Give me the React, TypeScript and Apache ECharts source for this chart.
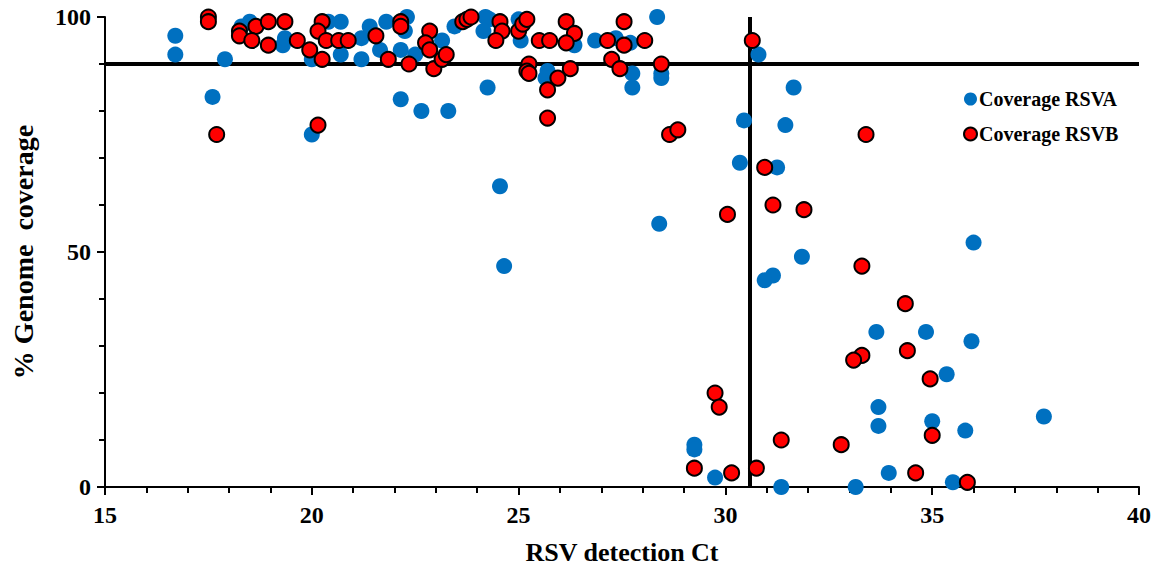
import React, { useEffect, useRef } from "react";
import * as echarts from "echarts";

const xTitle = "RSV detection Ct";
const yTitle = "% Genome  coverage";
const seriesNames = ["Coverage RSVA", "Coverage RSVB"];
const thresholdCoverage = 90;
const thresholdCt = 30.6;

const rsvA: number[][] = [
  [16.7, 96], [16.7, 92], [17.6, 83], [17.9, 91], [18.3, 98], [18.5, 99], [19.3, 94], [19.35, 95.5],
  [20.0, 91], [20.0, 75], [20.4, 99], [20.7, 99], [20.7, 92], [21.2, 91], [21.2, 95.5], [21.4, 98],
  [21.65, 93], [21.8, 99], [22.15, 93], [22.3, 100], [22.25, 97], [22.5, 92], [22.15, 82.5], [22.65, 80],
  [23.3, 80], [23.15, 95], [23.45, 98], [24.2, 100], [24.3, 99.5], [24.15, 97], [24.25, 85], [25.0, 99.5],
  [25.05, 95], [25.7, 88.5], [25.65, 87], [26.35, 94], [26.85, 95], [27.35, 95.5], [27.7, 94.5], [27.75, 88],
  [27.75, 85], [28.35, 100], [28.45, 88], [28.45, 87], [24.55, 64], [24.65, 47], [28.4, 56], [30.45, 78],
  [30.8, 92], [31.65, 85], [31.45, 77], [30.35, 69], [31.25, 68], [36.0, 52], [31.85, 49], [31.15, 45],
  [30.95, 44], [33.65, 33], [34.85, 33], [35.95, 31], [35.35, 24], [33.7, 17], [33.7, 13], [35.0, 14],
  [35.8, 12], [37.7, 15], [29.25, 9], [29.25, 8], [29.75, 2], [31.35, 0], [33.15, 0], [33.95, 3], [35.5, 1],
];

const rsvB: number[][] = [
  [17.5, 100], [17.5, 99], [17.7, 75], [18.25, 97], [18.25, 96], [18.65, 98], [18.55, 95], [18.95, 99],
  [18.95, 94], [19.35, 99], [19.65, 95], [19.95, 93], [20.25, 99], [20.15, 97], [20.25, 91], [20.35, 95],
  [20.65, 95], [20.88, 95], [20.15, 77], [21.55, 96], [21.85, 91], [22.15, 99], [22.15, 98], [22.35, 90],
  [22.85, 97], [22.75, 94.5], [22.85, 93], [22.95, 89], [23.15, 91], [23.25, 92], [23.65, 99], [23.75, 99.5],
  [23.85, 100], [24.55, 99], [24.6, 97], [24.45, 95], [25.0, 97], [25.1, 98.5], [25.2, 99.5], [25.5, 95],
  [25.75, 95], [25.25, 90], [25.2, 88.5], [25.25, 88], [25.7, 84.5], [25.7, 78.5], [26.15, 99], [26.35, 96.5],
  [26.15, 94.5], [26.25, 89], [25.95, 87], [27.15, 95], [27.55, 99], [27.55, 94], [27.25, 91], [27.45, 89],
  [28.05, 95], [28.45, 90], [28.65, 75], [28.85, 76], [30.65, 95], [30.05, 58], [30.95, 68], [31.15, 60],
  [31.9, 59], [33.4, 75], [33.3, 47], [34.35, 39], [33.3, 28], [33.1, 27], [34.4, 29], [34.95, 23],
  [29.75, 20], [29.85, 17], [35.0, 11], [31.35, 10], [32.8, 9], [29.25, 4], [30.15, 3], [30.75, 4],
  [34.6, 3], [35.85, 1],
];

const FONT = "'Liberation Serif', 'Times New Roman', serif";

export default function App() {
  const ref = useRef<HTMLDivElement>(null);
  useEffect(() => {
    if (!ref.current) return;
    const chart = echarts.init(ref.current, undefined, { renderer: "svg" });
    const axisCommon = {
      axisLine: { show: true, onZero: false, lineStyle: { color: "#000", width: 2 } },
      axisTick: { show: true, inside: false, length: 8, lineStyle: { color: "#000", width: 2 } },
      minorTick: { show: true, splitNumber: 5, length: 6, lineStyle: { color: "#000", width: 2 } },
      splitLine: { show: false },
      axisLabel: { color: "#000", fontFamily: FONT, fontWeight: "bold", fontSize: 24 },
      nameTextStyle: { color: "#000", fontFamily: FONT, fontWeight: "bold", fontSize: 26 },
    };
    chart.setOption({
      animation: false,
      backgroundColor: "#fff",
      grid: { left: 105, right: 20, top: 17, bottom: 92, containLabel: false },
      legend: {
        orient: "vertical",
        left: 958,
        top: 84,
        itemGap: 15,
        itemWidth: 13,
        itemHeight: 13,
        textStyle: { color: "#000", fontFamily: FONT, fontWeight: "bold", fontSize: 20, padding: [0, 0, 0, -3] },
        data: [
          { name: seriesNames[0], icon: "circle" },
          { name: seriesNames[1], icon: "circle" },
        ],
      },
      xAxis: {
        type: "value",
        min: 15,
        max: 40,
        interval: 5,
        name: xTitle,
        nameLocation: "middle",
        nameGap: 52,
        ...axisCommon,
        axisLabel: { ...axisCommon.axisLabel, margin: 16 },
      },
      yAxis: {
        type: "value",
        min: 0,
        max: 100,
        interval: 50,
        name: yTitle,
        nameLocation: "middle",
        nameGap: 68,
        ...axisCommon,
        nameTextStyle: { ...axisCommon.nameTextStyle, fontSize: 28 },
        axisLabel: { ...axisCommon.axisLabel, margin: 14 },
      },
      series: [
        {
          name: seriesNames[0],
          type: "scatter",
          symbolSize: 16,
          itemStyle: { color: "#0070C0", opacity: 1 },
          data: rsvA,
          z: 2,
        },
        {
          name: seriesNames[1],
          type: "scatter",
          symbolSize: 15,
          itemStyle: { color: "#FF0000", borderColor: "#000", borderWidth: 2, opacity: 1 },
          data: rsvB,
          z: 3,
          markLine: {
            silent: true,
            symbol: "none",
            label: { show: false },
            lineStyle: { color: "#000", width: 4, type: "solid" },
            z: 1,
            data: [
              [{ coord: [15, thresholdCoverage] }, { coord: [40, thresholdCoverage] }],
              [{ coord: [thresholdCt, 0] }, { coord: [thresholdCt, 100] }],
            ],
          },
        },
      ],
    });
    return () => chart.dispose();
  }, []);
  return <div ref={ref} style={{ width: 1159, height: 579, position: "absolute", left: 0, top: 0 }} />;
}
